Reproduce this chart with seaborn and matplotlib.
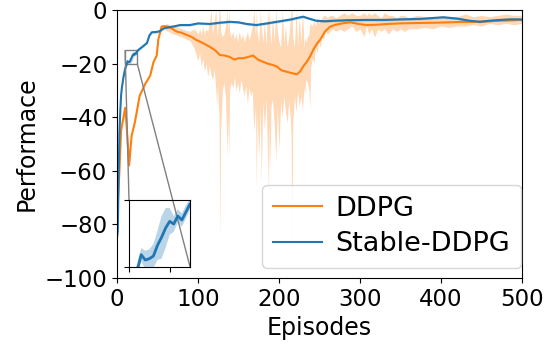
import numpy as np
import pandas as pd
import seaborn as sns
import matplotlib
matplotlib.use("Agg")
import matplotlib.pyplot as plt
from mpl_toolkits.axes_grid1.inset_locator import mark_inset

# DDPG mean curve
ddpg_ep = [1, 3, 5, 8, 10, 12, 15, 18, 22, 28, 35, 41, 45, 49, 51, 53, 55, 58, 63, 68,
           74, 80, 86, 92, 98, 104, 110, 115, 121, 127, 133, 139, 145, 150, 156, 162, 168,
           174, 180, 186, 192, 197, 203, 209, 215, 222, 226, 230, 234, 238, 243, 247, 251,
           257, 263, 270, 278, 288, 298, 308, 320, 335, 349, 365, 380, 399, 420, 444, 460,
           473, 485, 497, 500]
ddpg_mean = [-72, -60, -45, -40, -36.5, -43.5, -58, -47, -42, -32, -27.5, -24.5, -19.5, -17,
             -11, -8.7, -6.2, -6, -6.2, -7, -8.1, -8.5, -9.3, -10, -11.2, -12, -13, -13.8,
             -15, -16.8, -17, -17.5, -18.5, -18, -18, -17.5, -17, -18.5, -19.3, -20, -20.5,
             -21, -22.5, -23, -23.5, -24, -23, -21, -19.5, -17.5, -14.5, -12.5, -11, -8,
             -6.2, -5.5, -5, -4.6, -5.2, -5.6, -5.5, -5.2, -5, -4.9, -4.8, -4.7, -4.5, -4.4,
             -4.2, -4, -3.9, -3.7, -3.7]

# DDPG shaded band (lower / upper)
band_ep = [60, 70, 80, 90, 95, 98, 100, 102, 104, 106, 108, 110, 112, 114, 116, 118, 120,
           122, 123, 124, 126, 127, 128, 130, 132, 134, 136, 137, 138, 139, 141, 143, 145,
           147, 149, 151, 153, 155, 157, 159, 161, 163, 165, 167, 169, 171, 172, 173, 175,
           177, 178, 180, 182, 184, 186, 187, 188, 189, 190, 192, 194, 196, 198, 200, 202,
           204, 206, 208, 210, 212, 214, 215, 216, 217, 219, 221, 223, 225, 227, 229, 231,
           232, 233, 235, 237, 238, 239, 241, 243, 245, 247, 249, 251, 253, 255, 257, 260,
           263, 266, 270, 275, 280, 285, 290, 295, 300, 305, 308, 311, 314, 318, 322, 326,
           330, 335, 340, 345, 350, 355, 360, 370, 380, 390, 400, 410, 420, 430, 440, 450,
           460, 470, 480, 490, 500]
band_lo = [-7.5, -9, -10, -11.5, -14, -17, -19, -16, -21, -18, -23, -20, -25, -21, -24, -26,
           -22, -30, -36, -28, -40, -85, -45, -30, -27, -33, -54, -40, -55, -30, -27, -29,
           -25, -30, -27, -31, -26, -29, -32, -28, -35, -29, -32, -30, -45, -36, -67, -38,
           -55, -36, -64, -34, -45, -33, -55, -68, -42, -60, -36, -33, -42, -56, -36, -52,
           -34, -40, -32, -38, -42, -34, -40, -48, -92, -42, -32, -38, -30, -36, -32, -37,
           -29, -31, -26, -27, -30, -37, -22, -18, -20, -14, -16, -12, -14, -10, -11, -8,
           -9, -8, -7, -8, -7, -8, -7, -6, -8, -7, -10, -6, -9, -7, -10, -7, -8, -7, -9,
           -7, -8, -7, -8, -7, -7, -6.5, -7, -6, -6.5, -6, -6, -5.5, -6, -5, -5.5, -5,
           -5.5, -5]
band_hi = [-5, -6, -7, -8, -7, -8, -9, -7, -9, -6, -9, -7, -8, -5, 0, -9, -4, 0, -6, -10,
           0, 0, -8, -10, -9, -6, 0, -8, 0, -8, -10, -8, -11, -9, -12, -8, -11, -9, -12,
           -10, -8, -11, -9, -6, 0, -10, 0, -8, -12, 0, -6, -12, -4, -13, 0, -5, 0, -9, -13,
           -2, -12, 0, -8, -12, -14, 0, -12, -6, -14, -10, -3, 0, 0, -10, -14, 0, -13, -2,
           -12, 0, -14, -10, -12, -10, -9, -6, -5, -6, -4, -6, -3, -5, -4, -3, -2, -2, -3,
           -2, -2, -3, -2, -1, -2, -1, -2, -2, -1, -2, -1, -2, -1, -2, -3, -1, -2, -2, -3,
           -2, -2, -3, -2, -2.5, -3, -2.5, -3, -2.5, -1.5, -2.5, -2, -2.5, -2, -1.5, -2, -2]

# Stable-DDPG mean curve and half-width of its band
stable_ep = [0, 1, 2, 3, 4, 5, 6, 7, 8, 9, 10, 11, 12, 13, 14, 15, 16, 17, 18, 19, 20, 21,
             22, 23, 24, 25, 28, 31, 37, 40, 43, 48, 52, 58, 65, 72, 78, 90, 100, 115, 125,
             139, 150, 160, 172, 185, 195, 205, 215, 225, 230, 235, 246, 257, 267, 285, 308,
             330, 349, 375, 403, 420, 435, 448, 460, 473, 485, 497, 500]
stable_mean = [-85, -82, -62, -46, -38, -32, -29, -27, -25, -23.5, -22, -21, -20.3, -19.1,
               -19.5, -19.4, -19.2, -18.4, -17.8, -17.1, -16.6, -16.8, -16.2, -16.5, -15.9,
               -15.3, -14.5, -13.8, -12.3, -9.5, -8.3, -8.2, -8, -6.8, -6.4, -6, -5.6, -5.6,
               -5, -5.2, -4.8, -4.4, -4.6, -5.2, -5.6, -5, -4.5, -4, -3.5, -2.8, -2.5, -3,
               -4, -4.2, -4, -3.8, -3.7, -3.7, -3.5, -3.3, -2.7, -3.2, -4, -4.4, -4, -3.7,
               -3.5, -3.5, -3.6]
stable_err = [1, 1, 1, 1, 1, 1, 0.8, 0.8, 0.7, 0.6, 0.6, 0.5, 0.5, 0.5, 0.7, 0.7, 0.9, 1.1,
              1.6, 1.5, 1.0, 0.6, 0.5, 0.5, 0.5, 0.4, 0.4, 0.4, 0.4, 0.4, 0.4, 0.4, 0.4, 0.4,
              0.4, 0.4, 0.4, 0.4, 0.4, 0.4, 0.4, 0.4, 0.4, 0.4, 0.4, 0.4, 0.4, 0.4, 0.4,
              0.4, 0.4, 0.4, 0.4, 0.4, 0.4, 0.4, 0.4, 0.4, 0.4, 0.4, 0.4, 0.4, 0.4, 0.4,
              0.4, 0.4, 0.4, 0.4, 0.4]

orange = "#ff7f0e"
blue = "#1f77b4"

df_ddpg = pd.DataFrame({"ep": ddpg_ep, "perf": ddpg_mean})
df_stable = pd.DataFrame({"ep": stable_ep, "perf": stable_mean})
s_lo = np.array(stable_mean) - np.array(stable_err)
s_hi = np.array(stable_mean) + np.array(stable_err)

fig = plt.figure(figsize=(5.59, 3.45), dpi=100)
ax = fig.add_axes([117 / 559, 1 - 278 / 345, 405 / 559, 268 / 345])

ax.fill_between(band_ep, band_lo, band_hi, color=orange, alpha=0.3, linewidth=0)
ax.fill_between(stable_ep, s_lo, s_hi, color=blue, alpha=0.3, linewidth=0)
sns.lineplot(data=df_ddpg, x="ep", y="perf", color=orange, lw=1.5, label="DDPG", ax=ax)
sns.lineplot(data=df_stable, x="ep", y="perf", color=blue, lw=1.5, label="Stable-DDPG", ax=ax)

ax.set_xlim(0, 500)
ax.set_ylim(-100, 0)
ax.set_xticks(range(0, 501, 100))
ax.set_yticks(range(-100, 1, 20))
ax.tick_params(labelsize=16.5)
ax.set_xlabel("Episodes", fontsize=17, labelpad=4)
ax.set_ylabel("Performace", fontsize=17)
ax.legend(loc="lower right", fontsize=19.5, bbox_to_anchor=(1 - 1 / 405, 10 / 268),
          borderaxespad=0, handlelength=1.8, handletextpad=0.5, labelspacing=0.35,
          borderpad=0.4)

# zoomed inset
axins = fig.add_axes([129 / 559, 1 - 266.7 / 345, 61 / 559, 66.7 / 345])
axins.fill_between(stable_ep, s_lo, s_hi, color=blue, alpha=0.3, linewidth=0)
sns.lineplot(data=df_stable, x="ep", y="perf", color=blue, lw=2, ax=axins, legend=False)
axins.set_xlim(10, 25)
axins.set_ylim(-20, -15)
axins.set_xticks([10, 20])
axins.set_yticks([-20, -15])
axins.set_xticklabels([])
axins.set_yticklabels([])
axins.set_xlabel("")
axins.set_ylabel("")
mark_inset(ax, axins, loc1=2, loc2=4, fc="none", ec="0.5", lw=1)

fig.savefig("out.png", dpi=100)
